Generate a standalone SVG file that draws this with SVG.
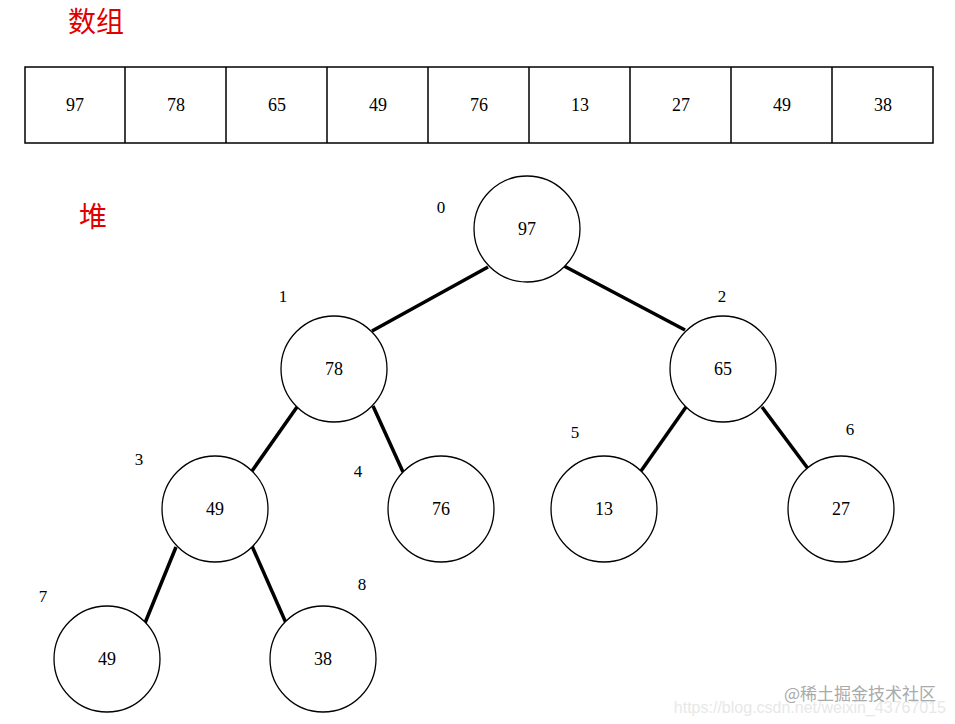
<svg xmlns="http://www.w3.org/2000/svg" width="955" height="724" viewBox="0 0 955 724">
<style>
.c{fill:#fff;stroke:#000;stroke-width:1.3}
.t{font-family:"Liberation Serif","Noto Serif CJK SC",serif;font-size:18px;text-anchor:middle;dominant-baseline:central;fill:#000}
.i{font-family:"Liberation Serif",serif;font-size:17px;text-anchor:middle;dominant-baseline:central;fill:#000}
.h{font-family:"Noto Sans CJK SC",sans-serif;font-size:28px;fill:#e00000}
.e{stroke:#000;stroke-width:3.5}
</style>
<rect width="955" height="724" fill="#fff"/>
<text class="h" x="68" y="32">数组</text>
<text class="h" x="79" y="227">堆</text>
<g id="array">
<rect x="25" y="67" width="908" height="76" fill="#fff" stroke="#000" stroke-width="1.5"/>
<path d="M125 67V143M226 67V143M327 67V143M428 67V143M529 67V143M630 67V143M731 67V143M832 67V143" stroke="#000" stroke-width="1.5"/>
<text class="t" x="75" y="105">97</text><text class="t" x="176" y="105">78</text><text class="t" x="277" y="105">65</text>
<text class="t" x="378" y="105">49</text><text class="t" x="479" y="105">76</text><text class="t" x="580" y="105">13</text>
<text class="t" x="681" y="105">27</text><text class="t" x="782" y="105">49</text><text class="t" x="883" y="105">38</text>
</g>
<g id="edges">
<line class="e" x1="488" y1="267" x2="372" y2="331"/>
<line class="e" x1="564" y1="266" x2="685" y2="330"/>
<line class="e" x1="297" y1="407" x2="252" y2="471"/>
<line class="e" x1="373" y1="406" x2="403" y2="472"/>
<line class="e" x1="686" y1="407" x2="641" y2="471"/>
<line class="e" x1="762" y1="407" x2="809" y2="470"/>
<line class="e" x1="176" y1="547" x2="145" y2="623"/>
<line class="e" x1="252" y1="546" x2="286" y2="623"/>
</g>
<g id="n0"><circle class="c" cx="527" cy="229" r="53"/><text class="t" x="527" y="229">97</text><text class="i" x="441" y="207">0</text></g>
<g id="n1"><circle class="c" cx="334" cy="369" r="53"/><text class="t" x="334" y="369">78</text><text class="i" x="283" y="296">1</text></g>
<g id="n2"><circle class="c" cx="723" cy="369" r="53"/><text class="t" x="723" y="369">65</text><text class="i" x="722" y="296">2</text></g>
<g id="n3"><circle class="c" cx="215" cy="509" r="53"/><text class="t" x="215" y="509">49</text><text class="i" x="139" y="459">3</text></g>
<g id="n4"><circle class="c" cx="441" cy="509" r="53"/><text class="t" x="441" y="509">76</text><text class="i" x="358" y="471">4</text></g>
<g id="n5"><circle class="c" cx="604" cy="509" r="53"/><text class="t" x="604" y="509">13</text><text class="i" x="575" y="432">5</text></g>
<g id="n6"><circle class="c" cx="841" cy="509" r="53"/><text class="t" x="841" y="509">27</text><text class="i" x="850" y="429">6</text></g>
<g id="n7"><circle class="c" cx="107" cy="659" r="53"/><text class="t" x="107" y="659">49</text><text class="i" x="43" y="596">7</text></g>
<g id="n8"><circle class="c" cx="323" cy="659" r="53"/><text class="t" x="323" y="659">38</text><text class="i" x="362" y="584">8</text></g>
<text x="946" y="713" text-anchor="end" font-family="Liberation Sans,sans-serif" font-size="16" fill="#e8e8e8">https://blog.csdn.net/weixin_43767015</text>
<text x="936" y="700" text-anchor="end" font-family="Noto Sans CJK SC,sans-serif" font-size="17" fill="#aaa">@稀土掘金技术社区</text>
</svg>
